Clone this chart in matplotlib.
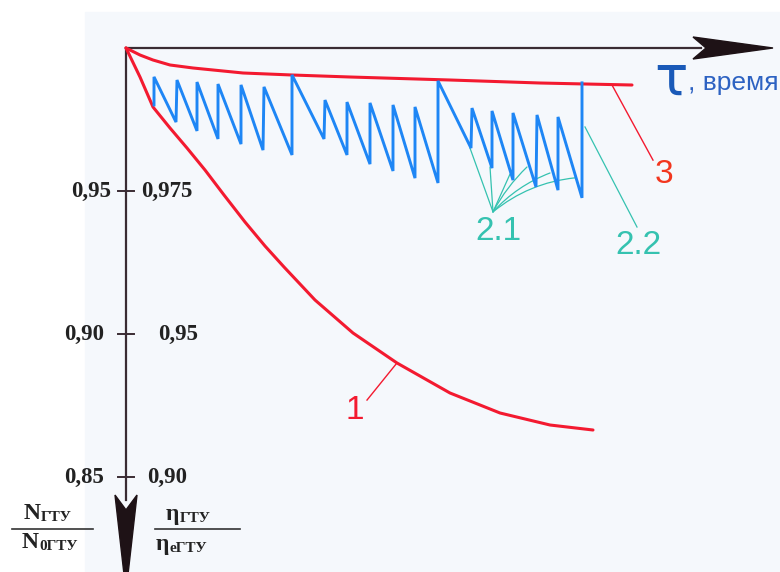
import matplotlib
matplotlib.use("Agg")
import matplotlib.pyplot as plt
from matplotlib.patches import Polygon, Rectangle

# schematic: tau (time, arbitrary units from origin) vs N/N0 ratio
RED = "#f31a30"
BLUE = "#1e86f5"
GREEN = "#35c2b0"
AXC = "#3a2c33"

# curve 1 - degradation without washing
t1 = [0, 14, 27, 44, 61, 79, 98, 119, 139, 158, 189, 227, 271, 324, 374,
      424, 467]
y1 = [1.0, 0.98986, 0.97937, 0.97203, 0.96503, 0.95734, 0.94860, 0.93916,
      0.93077, 0.92343, 0.91189, 0.90035, 0.88986, 0.87937, 0.87238,
      0.86818, 0.86643]

# curve 3 - envelope
t3 = [0, 14, 27, 44, 67, 117, 166, 224, 324, 414, 506]
y3 = [1.0, 0.99755, 0.9958, 0.99406, 0.99301, 0.99126, 0.99056, 0.98986,
      0.98881, 0.98776, 0.98706]

# curve 2 - sawtooth (washings)
t2 = [28, 28, 50, 51, 71, 71, 92, 92, 115, 115, 137, 138, 166, 166, 198, 199,
      221, 221, 244, 244, 267, 267, 289, 289, 312, 312, 345, 346, 366, 366,
      387, 387, 410, 411, 432, 432, 456, 456]
y2 = [0.9801, 0.9899, 0.9741, 0.9888, 0.9710, 0.9881, 0.9682, 0.9874, 0.9664,
      0.9871, 0.9643, 0.9864, 0.9626, 0.9906, 0.9682, 0.9818, 0.9626, 0.9811,
      0.9594, 0.9808, 0.9570, 0.9801, 0.9545, 0.9794, 0.9528, 0.9885, 0.9650,
      0.9790, 0.9580, 0.9780, 0.9538, 0.9773, 0.9514, 0.9766, 0.9503, 0.9759,
      0.9476, 0.9878]

# left / right axis scales
tick_y = [0.95, 0.90, 0.85]
left_labels = ["0,95", "0,90", "0,85"]
right_labels = ["0,975", "0,95", "0,90"]

# leader targets for 2.1
lead21_t = [344, 364, 384, 401, 424, 449]
lead21_y = [0.9650, 0.9584, 0.9559, 0.9584, 0.9563, 0.9546]
lead21_rad = [0, 0, 0, -0.08, -0.12, -0.15]

fig = plt.figure(figsize=(7.8, 5.72), dpi=100)
ax = fig.add_axes([0, 0, 1, 1])
ax.set_xlim(-126, 654)
ax.set_ylim(0.816783, 1.016783)
ax.axis("off")

ax.add_patch(Rectangle((-41, 0.80), 700, 0.2126, color="#f5f8fc", zorder=0))

# axes
ax.plot([0, 575], [1.0, 1.0], color=AXC, lw=1.6, zorder=2)
ax.plot([0, 0], [1.0, 0.842], color=AXC, lw=1.6, zorder=2)
ax.add_patch(Polygon([(647, 1.0), (567, 1.00385), (580, 1.0), (567, 0.99615)],
                     closed=True, color="#1e1216", zorder=3))
ax.add_patch(Polygon([(0, 0.8098), (-11, 0.8437), (0, 0.8385), (11, 0.8437)],
                     closed=True, color="#1e1216", zorder=3))
for ty, ll, rl, lx, rx in zip(tick_y, left_labels, right_labels,
                              [-35, -42, -42], [41, 52, 41]):
    ax.plot([-8, 8], [ty, ty], color=AXC, lw=1.4, zorder=2)
    ax.text(lx, ty, ll, ha="center", va="center", fontsize=16.5,
            family="Liberation Serif", weight="bold", color="#222")
    ax.text(rx, ty, rl, ha="center", va="center", fontsize=16.5,
            family="Liberation Serif", weight="bold", color="#222")

# fractions under axis
ax.plot([-114, -33], [0.8318, 0.8318], color="#333", lw=1.2)
ax.plot([29, 114], [0.8318, 0.8318], color="#333", lw=1.2)
frac = [(-102, 0.8352, "N", "ГТУ"), (-104, 0.8250, "N", "0ГТУ"),
        (40, 0.8350, "η", "ГТУ"), (30, 0.8246, "η", "еГТУ")]
for fx, fy, big, small in frac:
    tb = ax.text(fx, fy, big, ha="left", va="baseline", fontsize=17,
                 family="Liberation Serif", weight="bold", color="#222")
    ax.annotate(small, xy=(1.0, 0.0), xycoords=tb, ha="left", va="bottom",
                fontsize=11, family="Liberation Serif", weight="bold",
                color="#222")

# curves
ax.plot(t1, y1, color=RED, lw=2.2, zorder=4, solid_capstyle="round")
ax.plot(t3, y3, color=RED, lw=2.2, zorder=4, solid_capstyle="round")
ax.plot(t2, y2, color=BLUE, lw=2.1, zorder=5, solid_joinstyle="miter")

# labels
ax.plot([271, 241], [0.8899, 0.8769], color=RED, lw=1.0)
ax.text(229, 0.8734, "1", color=RED, fontsize=24, family="Liberation Sans",
        ha="center", va="center")
ax.plot([486, 527], [0.98706, 0.9608], color=RED, lw=1.0)
ax.text(538, 0.9556, "3", color="#f2361e", fontsize=24,
        family="Liberation Sans", ha="center", va="center")
ax.plot([459, 511], [0.9724, 0.9374], color=GREEN, lw=0.9)
ax.text(512, 0.9308, "2.2", color=GREEN, fontsize=24,
        family="Liberation Sans", ha="center", va="center")
for lt, ly, rad in zip(lead21_t, lead21_y, lead21_rad):
    ax.annotate("", xy=(lt, ly), xytext=(367, 0.9427),
                arrowprops=dict(arrowstyle="-", color=GREEN, lw=0.9,
                                shrinkA=0, shrinkB=0,
                                connectionstyle="arc3,rad=%s" % rad))
ax.text(372, 0.9357, "2.1", color=GREEN, fontsize=24,
        family="Liberation Sans", ha="center", va="center")

ax.text(545, 0.98357, "τ", color="#1a5ab8", fontsize=40,
        family="DejaVu Sans", ha="center", va="baseline")
ax.text(562, 0.98531, ", время", color="#2d62c2", fontsize=19,
        family="Liberation Sans", ha="left", va="baseline")

fig.savefig("out.png", dpi=100)
